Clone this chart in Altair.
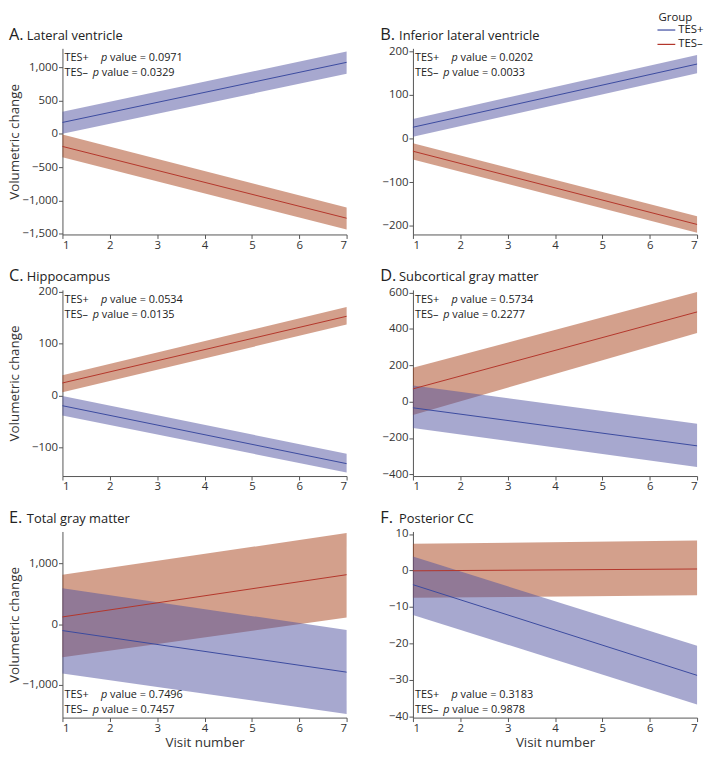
import altair as alt
import pandas as pd

# ---------------- data ----------------
visits = [1, 7]
x_ticks = [1, 2, 3, 4, 5, 6, 7]
groups = ["TES+", "TES–"]
legend_title = "Group"
letters = ["A.", "B.", "C.", "D.", "E.", "F."]
names = ["Lateral ventricle", "Inferior lateral ventricle", "Hippocampus",
         "Subcortical gray matter", "Total gray matter", "Posterior CC"]

pos_mean = [[170, 1072], [26, 171], [-20, -132], [-34, -243], [-108, -796], [-3.9, -28.8]]
pos_lo = [[0, 901], [4, 150], [-39, -149], [-145, -359], [-817, -1489], [-12.2, -36.8]]
pos_hi = [[331, 1233], [45, 192], [-1, -113], [88, -121], [591, -97], [3.8, -20.7]]

neg_mean = [[-190, -1267], [-29, -197], [24, 153], [70, 493], [118, 817], [-0.1, 0.4]]
neg_lo = [[-351, -1438], [-48, -216], [6, 137], [-73, 377], [-548, 108], [-7.5, -6.8]]
neg_hi = [[-10, -1106], [-11, -178], [39, 171], [186, 602], [817, 1505], [7.3, 8.2]]

p_pos = ["0.0971", "0.0202", "0.0534", "0.5734", "0.7496", "0.3183"]
p_neg = ["0.0329", "0.0033", "0.0135", "0.2277", "0.7457", "0.9878"]

y_domains = [[-1511, 1282], [-220, 207], [-156, 204], [-409, 614], [-1548, 1532], [-40.4, 10.7]]
y_ticks = [[-1500, -1000, -500, 0, 500, 1000], [-200, -100, 0, 100, 200], [-100, 0, 100, 200],
           [-400, -200, 0, 200, 400, 600], [-1000, 0, 1000], [-40, -30, -20, -10, 0, 10]]

# ---------------- styling ----------------
LINE_COLORS = ["#3B4A9F", "#B3362B"]
BAND_COLORS = ["#4F519F", "#A74119"]
FONT = "Open Sans"
TXT = "#222"
W, H = 287, 188

color_scale = alt.Scale(domain=groups, range=LINE_COLORS)
fill_scale = alt.Scale(domain=groups, range=BAND_COLORS)


def legend_layers():
    out = []
    out.append(alt.Chart(pd.DataFrame({"t": [legend_title]})).mark_text(
        align="left", baseline="alphabetic", fontSize=11.5, font=FONT, color=TXT).encode(
        text="t:N", x=alt.value(248), y=alt.value(-28)))
    for j, g in enumerate(groups):
        yy = -18.5 + 14.5 * j
        gdf = pd.DataFrame({"group": [g]})
        out.append(alt.Chart(gdf).mark_rule(strokeWidth=1.2).encode(
            x=alt.value(247), x2=alt.value(265), y=alt.value(yy),
            color=alt.Color("group:N", scale=color_scale, legend=None)))
        out.append(alt.Chart(gdf).mark_text(
            align="left", baseline="middle", fontSize=11.5, font=FONT, color=TXT).encode(
            text="group:N", x=alt.value(268), y=alt.value(yy)))
    return out


def panel(i):
    rows = []
    for g, m, lo, hi in [(groups[0], pos_mean[i], pos_lo[i], pos_hi[i]),
                         (groups[1], neg_mean[i], neg_lo[i], neg_hi[i])]:
        for k, v in enumerate(visits):
            rows.append({"group": g, "visit": v, "mean": m[k], "lo": lo[k], "hi": hi[k]})
    df = pd.DataFrame(rows)
    left = i % 2 == 0
    bottom = i >= 4

    x = alt.X("visit:Q", scale=alt.Scale(domain=[1, 7], nice=False, zero=False),
              axis=alt.Axis(values=x_ticks, format="d"),
              title="Visit number" if bottom else None)
    yscale = alt.Scale(domain=y_domains[i], nice=False, zero=False)
    yaxis = alt.Axis(values=y_ticks[i], format=",.0f", minExtent=40, maxExtent=40)
    ytitle = "Volumetric change" if left else None

    base = alt.Chart(df)
    bands = []
    for g in [groups[1], groups[0]]:
        bands.append(
            base.transform_filter(alt.datum.group == g)
            .mark_area(opacity=0.5)
            .encode(x=x,
                    y=alt.Y("lo:Q", scale=yscale, axis=yaxis, title=ytitle),
                    y2="hi:Q",
                    fill=alt.Fill("group:N", scale=fill_scale, legend=None))
        )
    lines = base.mark_line(strokeWidth=1).encode(
        x=x, y=alt.Y("mean:Q", scale=yscale, axis=yaxis, title=ytitle),
        color=alt.Color("group:N", scale=color_scale, legend=None),
        detail="group:N")

    tx_letter = -54 if left else -33
    tx_name = -36 if left else -14
    tdf = pd.DataFrame({"letter": [letters[i]], "name": [names[i]]})
    t1 = alt.Chart(tdf).mark_text(align="left", baseline="alphabetic", fontSize=16.5,
                                  font=FONT, color=TXT).encode(
        text="letter:N", x=alt.value(tx_letter), y=alt.value(-8.5))
    t2 = alt.Chart(tdf).mark_text(align="left", baseline="alphabetic", fontSize=13,
                                  font=FONT, color=TXT).encode(
        text="name:N", x=alt.value(tx_name), y=alt.value(-8.5))

    ptexts = []
    y0 = H - 23 if bottom else 10
    pieces = [(groups[0], p_pos[i], 39, 48), (groups[1], p_neg[i], 30.7, 39.7)]
    for j, (g, pv, xp, xv) in enumerate(pieces):
        pdf = pd.DataFrame({"g": [g], "p": ["p"], "v": ["value = " + pv]})
        yy = y0 + 15 * j
        common = dict(align="left", baseline="middle", fontSize=11, font=FONT, color=TXT)
        ptexts.append(alt.Chart(pdf).mark_text(**common).encode(
            text="g:N", x=alt.value(2), y=alt.value(yy)))
        ptexts.append(alt.Chart(pdf).mark_text(fontStyle="italic", **common).encode(
            text="p:N", x=alt.value(xp), y=alt.value(yy)))
        ptexts.append(alt.Chart(pdf).mark_text(**common).encode(
            text="v:N", x=alt.value(xv), y=alt.value(yy)))

    extra = legend_layers() if i == 1 else []
    return alt.layer(*bands, lines, t1, t2, *ptexts, *extra).properties(width=W, height=H)


panels = [panel(i) for i in range(6)]

chart = (
    alt.concat(*panels, columns=2, spacing=alt.RowColnumber(row=56, column=67),
               bounds="flush", align="all")
    .resolve_scale(x="independent", y="independent")
    .properties(padding=0)
    .configure_view(stroke=None)
    .configure_axis(grid=False, domainColor="#555", tickColor="#555", labelColor="#333",
                    titleColor="#333", labelFont=FONT, titleFont=FONT, labelFontSize=11.5,
                    titleFontSize=13.5, titleFontWeight="normal", tickSize=4, labelPadding=1)
    .configure_axisY(titlePadding=1)
    .configure_axisX(titlePadding=2)
)

chart.save("out.html", embed_options={"renderer": "svg", "actions": False})
